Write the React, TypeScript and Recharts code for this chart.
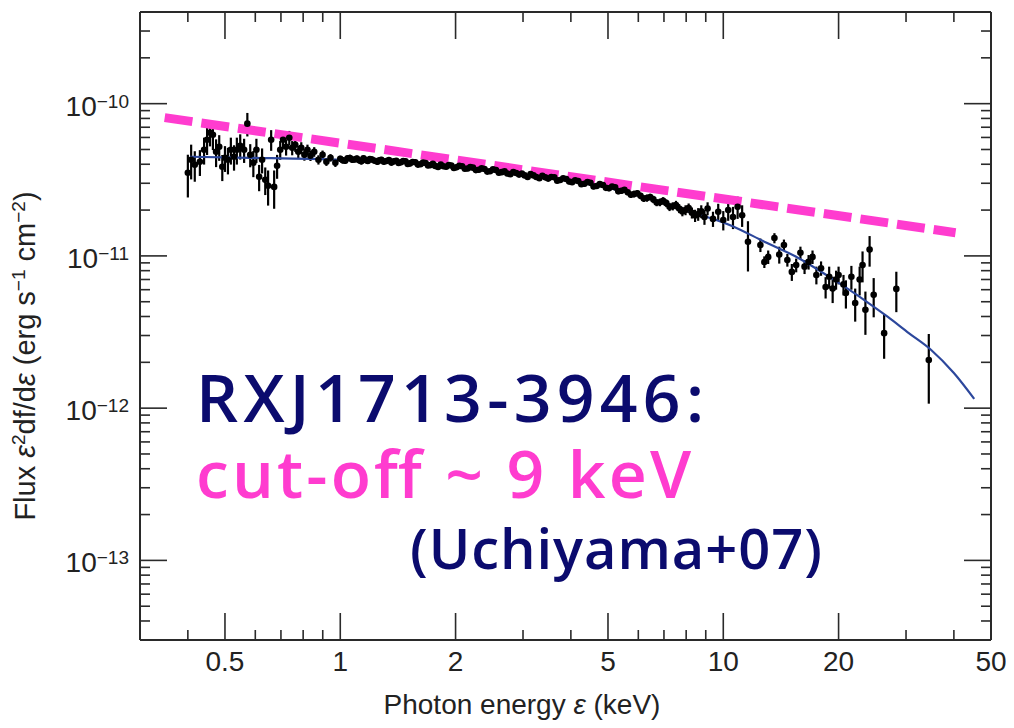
import React from "react";
import { ComposedChart, XAxis, YAxis, Scatter, Line, ErrorBar } from "recharts";

// flux values are in units of 1e-11 erg s^-1 cm^-2

// 0.4 - 1 keV: noisy low-energy points
const softEnergy = [
  0.4, 0.408, 0.417, 0.43, 0.441, 0.449, 0.457, 0.465, 0.474, 0.483, 0.492, 0.5, 0.509, 0.518,
  0.528, 0.537, 0.548, 0.561, 0.572, 0.582, 0.593, 0.604, 0.614, 0.625, 0.637, 0.648, 0.66,
  0.672, 0.684, 0.697, 0.709, 0.722, 0.736, 0.749, 0.763, 0.777, 0.791, 0.806, 0.821, 0.836,
  0.855, 0.877, 0.899, 0.92, 0.943, 0.971,
];
const softFlux = [
  3.52, 4.28, 3.97, 4.15, 4.98, 5.8, 6.44, 6.25, 4.83, 5.21, 3.85, 4.41, 4.28, 4.98, 4.48, 4.98,
  5.29, 4.98, 7.39, 4.62, 4.09, 4.98, 3.31, 4.28, 3.16, 2.89, 5.8, 2.84, 3.91, 4.98, 5.8, 5.21,
  5.97, 5.13, 5.37, 4.83, 5.13, 4.62, 4.98, 4.55, 4.83, 4.28, 4.62, 4.15, 4.41, 4.09,
];
const softErr = [
  1.1, 1.1, 0.9, 0.8, 1.0, 1.2, 1.2, 1.3, 1.0, 1.0, 0.75, 0.85, 0.85, 1.0, 0.85, 1.0, 1.0, 0.9,
  1.3, 0.8, 0.8, 0.9, 0.65, 0.8, 0.65, 0.75, 0.9, 0.8, 0.7, 0.7, 0.75, 0.65, 0.65, 0.55, 0.55,
  0.45, 0.45, 0.4, 0.4, 0.35, 0.35, 0.3, 0.3, 0.25, 0.25, 0.25,
];

// 1 - 9 keV: dense band
const midEnergy = [
  1.0, 1.015, 1.03, 1.045, 1.06, 1.075, 1.09, 1.105, 1.12, 1.135,
  1.15, 1.165, 1.18, 1.195, 1.21, 1.23, 1.25, 1.265, 1.28, 1.3,
  1.32, 1.34, 1.36, 1.38, 1.4, 1.42, 1.44, 1.46, 1.48, 1.5,
  1.52, 1.545, 1.57, 1.595, 1.62, 1.645, 1.67, 1.695, 1.72, 1.745,
  1.77, 1.8, 1.83, 1.86, 1.89, 1.92, 1.95, 1.98, 2.01, 2.045,
  2.08, 2.115, 2.15, 2.185, 2.22, 2.26, 2.3, 2.34, 2.38, 2.42,
  2.46, 2.505, 2.55, 2.595, 2.64, 2.685, 2.73, 2.78, 2.83, 2.88,
  2.93, 2.98, 3.03, 3.085, 3.14, 3.195, 3.25, 3.31, 3.37, 3.43,
  3.49, 3.555, 3.62, 3.685, 3.75, 3.82, 3.89, 3.96, 4.03, 4.105,
  4.18, 4.26, 4.34, 4.42, 4.5, 4.585, 4.67, 4.76, 4.85, 4.94,
  5.03, 5.125, 5.22, 5.32, 5.42, 5.52, 5.63, 5.74, 5.85, 5.965,
  6.08, 6.2, 6.32, 6.445, 6.57, 6.7, 6.83, 6.965, 7.1, 7.24,
  7.38, 7.525, 7.67, 7.82, 7.97, 8.12, 8.28, 8.44, 8.6, 8.76, 8.93,
];
const midFlux = [
  4.35, 4.25, 4.22, 4.38, 4.4, 4.28, 4.3, 4.36, 4.25, 4.18,
  4.38, 4.27, 4.2, 4.33, 4.3, 4.22, 4.15, 4.24, 4.28, 4.16,
  4.2, 4.26, 4.1, 4.18, 4.22, 4.08, 4.12, 4.2, 4.18, 4.02,
  4.05, 4.14, 4.12, 3.98, 4.0, 4.1, 4.08, 3.93, 3.95, 4.02,
  3.9, 3.84, 3.98, 3.88, 3.85, 3.95, 3.92, 3.78, 3.82, 3.9,
  3.88, 3.74, 3.75, 3.84, 3.8, 3.66, 3.68, 3.76, 3.72, 3.58,
  3.6, 3.7, 3.66, 3.52, 3.55, 3.6, 3.48, 3.44, 3.55, 3.5,
  3.42, 3.47, 3.38, 3.3, 3.45, 3.38, 3.3, 3.24, 3.36, 3.28,
  3.22, 3.3, 3.28, 3.12, 3.15, 3.24, 3.2, 3.08, 3.05, 3.14,
  3.1, 2.96, 2.98, 3.06, 3.02, 2.86, 2.88, 2.96, 2.92, 2.8,
  2.78, 2.86, 2.82, 2.66, 2.68, 2.72, 2.62, 2.52, 2.55, 2.58,
  2.48, 2.38, 2.4, 2.44, 2.35, 2.24, 2.25, 2.3, 2.22, 2.1,
  2.12, 2.16, 2.05, 1.96, 2.0, 2.06, 1.92, 1.84, 1.88, 1.96, 1.8,
];
const midErr = [
  0.2, 0.21, 0.2, 0.2, 0.22, 0.2, 0.19, 0.2, 0.2, 0.19,
  0.19, 0.2, 0.18, 0.19, 0.19, 0.18, 0.19, 0.18, 0.19, 0.18,
  0.18, 0.17, 0.18, 0.18, 0.17, 0.18, 0.17, 0.18, 0.17, 0.17,
  0.17, 0.16, 0.17, 0.17, 0.16, 0.17, 0.16, 0.16, 0.17, 0.16,
  0.16, 0.15, 0.16, 0.16, 0.15, 0.16, 0.15, 0.15, 0.16, 0.15,
  0.15, 0.14, 0.15, 0.15, 0.14, 0.15, 0.14, 0.14, 0.15, 0.14,
  0.14, 0.14, 0.13, 0.14, 0.14, 0.13, 0.14, 0.13, 0.14, 0.13,
  0.13, 0.14, 0.13, 0.13, 0.14, 0.13, 0.13, 0.12, 0.13, 0.13,
  0.13, 0.12, 0.13, 0.12, 0.13, 0.12, 0.12, 0.13, 0.12, 0.12,
  0.12, 0.12, 0.13, 0.12, 0.12, 0.12, 0.13, 0.12, 0.12, 0.12,
  0.12, 0.12, 0.12, 0.12, 0.13, 0.12, 0.12, 0.12, 0.13, 0.12,
  0.12, 0.12, 0.13, 0.12, 0.13, 0.12, 0.13, 0.13, 0.13, 0.13,
  0.13, 0.14, 0.14, 0.14, 0.15, 0.15, 0.16, 0.17, 0.18, 0.19, 0.2,
];

// 9 - 35 keV: sparse points with large error bars
const hardEnergy = [
  9.1, 9.4, 9.7, 10.0, 10.3, 10.6, 10.9, 11.2,
  11.6, 12.5, 12.8, 13.1, 13.6, 14.0, 14.4, 14.7, 15.1, 15.5, 15.9, 16.3, 16.7, 17.1, 17.5, 18.0,
  18.5, 18.9, 19.3, 19.7, 20.0, 20.6, 20.9, 21.6, 22.1, 22.7, 23.1, 23.5, 24.1, 24.7, 26.3, 28.3,
  34.4,
];
const hardFlux = [
  2.05, 1.75, 1.95, 1.72, 2.0, 1.8, 2.1, 1.85,
  1.24, 1.18, 0.913, 0.985, 1.31, 1.02, 1.18, 0.94, 0.785, 0.87, 1.05, 0.85, 0.913, 0.985, 0.75,
  0.83, 0.625, 0.73, 0.61, 0.7, 0.75, 0.65, 0.571, 0.73, 0.49, 0.7, 0.87, 0.443, 1.1, 0.555,
  0.311, 0.607, 0.207,
];
const hardErr = [
  0.2, 0.2, 0.25, 0.25, 0.3, 0.3, 0.35, 0.3,
  0.45, 0.12, 0.08, 0.1, 0.1, 0.13, 0.1, 0.09, 0.1, 0.09, 0.1, 0.09, 0.1, 0.1, 0.1, 0.09, 0.1,
  0.12, 0.12, 0.1, 0.1, 0.1, 0.12, 0.13, 0.12, 0.15, 0.2, 0.14, 0.25, 0.16, 0.1, 0.18, 0.1,
];

const modelEnergy = [0.405, 0.582, 1.0, 1.43, 1.86, 2.4, 3.08, 3.99, 5.08, 6.46, 8.22, 10.5, 12.8, 15.7, 19.1, 23.3, 26.9, 30.5, 34.9, 40.0, 45.2];
const modelFlux = [4.48, 4.41, 4.28, 4.12, 3.92, 3.65, 3.38, 3.1, 2.78, 2.37, 1.95, 1.58, 1.24, 0.97, 0.717, 0.515, 0.397, 0.311, 0.241, 0.17, 0.115];

const powerLawEnergy = [0.348, 40.4];
const powerLawFlux = [8.1, 1.42];

const xTicks = [0.4, 0.5, 0.6, 0.7, 0.8, 0.9, 1, 2, 3, 4, 5, 6, 7, 8, 9, 10, 20, 30, 40, 50];
const xMajor = [0.5, 1, 2, 5, 10, 20, 50];
const yTicks = [
  0.004, 0.005, 0.006, 0.007, 0.008, 0.009, 0.01, 0.02, 0.03, 0.04, 0.05, 0.06, 0.07, 0.08, 0.09,
  0.1, 0.2, 0.3, 0.4, 0.5, 0.6, 0.7, 0.8, 0.9, 1, 2, 3, 4, 5, 6, 7, 8, 9, 10, 20, 30, 40,
];

const toRows = (e: number[], f: number[], s: number[]) => e.map((x, i) => ({ x, y: f[i], err: s[i] }));
const obsData = [
  ...toRows(softEnergy, softFlux, softErr),
  ...toRows(midEnergy, midFlux, midErr),
  ...toRows(hardEnergy, hardFlux, hardErr),
];
const modelData = modelEnergy.map((x, i) => ({ x, y: modelFlux[i] }));
const powerLawData = powerLawEnergy.map((x, i) => ({ x, y: powerLawFlux[i] }));

const axisColor = "#2a2a2a";
const labelFont = "'Liberation Sans', Arial, Helvetica, sans-serif";
const noteFont = "'Open Sans', 'Noto Sans', sans-serif";
const navy = "#0b0b6e";
const pink = "#ff3ccf";

// plot frame in svg pixels (from the axis sizes below)
const FRAME = { left: 132, right: 983, top: 4, bottom: 632 };

const isDecade = (v: number) => Math.abs(Math.log10(v) - Math.round(Math.log10(v))) < 1e-6;

// ticks point inward on all four sides, long at labelled values
const BottomTick = ({ x, payload }: any) => {
  const major = xMajor.includes(payload.value);
  const y = FRAME.bottom;
  return (
    <g>
      <line x1={x} y1={y} x2={x} y2={y - (major ? 27 : 10)} stroke={axisColor} strokeWidth={1.6} />
      {major && (
        <text x={x} y={y + 31} textAnchor="middle" fontSize={28} fontFamily={labelFont} fill="#222">
          {String(payload.value)}
        </text>
      )}
    </g>
  );
};

const TopTick = ({ x, payload }: any) => {
  const major = xMajor.includes(payload.value);
  const y = FRAME.top;
  return <line x1={x} y1={y} x2={x} y2={y + (major ? 27 : 10)} stroke={axisColor} strokeWidth={1.6} />;
};

const LeftTick = ({ y, payload }: any) => {
  const major = isDecade(payload.value);
  const exp = Math.round(Math.log10(payload.value)) - 11;
  const x = FRAME.left;
  return (
    <g>
      <line x1={x} y1={y} x2={x + (major ? 27 : 10)} y2={y} stroke={axisColor} strokeWidth={1.6} />
      {major && (
        <text x={x - 11} y={y + 12} textAnchor="end" fontSize={28} fontFamily={labelFont} fill="#222">
          10
          <tspan dy={-8} fontSize={19}>
            {"\u2212" + Math.abs(exp)}
          </tspan>
        </text>
      )}
    </g>
  );
};

const RightTick = ({ y, payload }: any) => {
  const major = isDecade(payload.value);
  const x = FRAME.right;
  return <line x1={x} y1={y} x2={x - (major ? 27 : 10)} y2={y} stroke={axisColor} strokeWidth={1.6} />;
};

const Dot = ({ cx, cy }: any) => <circle cx={cx} cy={cy} r={3.3} fill="#000" />;

export default function App() {
  return (
    <ComposedChart width={1000} height={712} margin={{ top: 0, right: 0, bottom: 0, left: 0 }}>
      <XAxis
        xAxisId="bottom"
        dataKey="x"
        type="number"
        scale="log"
        domain={[0.3, 50]}
        allowDataOverflow
        ticks={xTicks}
        interval={0}
        height={80}
        tickLine={false}
        tick={<BottomTick />}
        axisLine={{ stroke: axisColor, strokeWidth: 2 }}
      />
      <XAxis
        xAxisId="top"
        orientation="top"
        dataKey="x"
        type="number"
        scale="log"
        domain={[0.3, 50]}
        allowDataOverflow
        ticks={xTicks}
        interval={0}
        height={4}
        tickLine={false}
        tick={<TopTick />}
        axisLine={{ stroke: axisColor, strokeWidth: 2 }}
      />
      <YAxis
        yAxisId="left"
        type="number"
        scale="log"
        domain={[0.003, 40]}
        allowDataOverflow
        ticks={yTicks}
        interval={0}
        width={132}
        tickLine={false}
        tick={<LeftTick />}
        axisLine={{ stroke: axisColor, strokeWidth: 2 }}
      />
      <YAxis
        yAxisId="right"
        orientation="right"
        type="number"
        scale="log"
        domain={[0.003, 40]}
        allowDataOverflow
        ticks={yTicks}
        interval={0}
        width={17}
        tickLine={false}
        tick={<RightTick />}
        axisLine={{ stroke: axisColor, strokeWidth: 2 }}
      />

      <Scatter
        xAxisId="bottom"
        yAxisId="left"
        data={obsData}
        dataKey="y"
        shape={<Dot />}
        isAnimationActive={false}
      >
        <ErrorBar dataKey="err" direction="y" width={0} stroke="#000" strokeWidth={2.2} isAnimationActive={false} />
      </Scatter>
      <Line
        xAxisId="bottom"
        yAxisId="left"
        data={modelData}
        dataKey="y"
        type="monotone"
        stroke="#2c479c"
        strokeWidth={2.2}
        dot={false}
        activeDot={false}
        isAnimationActive={false}
      />
      <Line
        xAxisId="top"
        yAxisId="right"
        data={powerLawData}
        dataKey="y"
        type="linear"
        stroke={pink}
        strokeWidth={9}
        strokeDasharray="28 9"
        dot={false}
        activeDot={false}
        isAnimationActive={false}
      />

      <text x={514} y={706} textAnchor="middle" fontSize={28} fontFamily={labelFont} fill="#222">
        Photon energy <tspan fontStyle="italic">ε</tspan> (keV)
      </text>
      <text transform="rotate(-90)" x={-348} y={27} textAnchor="middle" fontSize={29} fontFamily={labelFont} fill="#222">
        Flux <tspan fontStyle="italic">ε</tspan>
        <tspan dy={-10} fontSize={19}>2</tspan>
        <tspan dy={10}>df/d</tspan>
        <tspan fontStyle="italic">ε</tspan> (erg s
        <tspan dy={-10} fontSize={19}>{"\u22121"}</tspan>
        <tspan dy={10}> cm</tspan>
        <tspan dy={-10} fontSize={19}>{"\u22122"}</tspan>
        <tspan dy={10}>)</tspan>
      </text>

      <text x={188} y={414} fontSize={66} fontWeight={600} fontFamily={noteFont} fill={navy} textLength={508} lengthAdjust="spacing">
        RXJ1713-3946:
      </text>
      <text x={188} y={490} fontSize={66} fontWeight={600} fontFamily={noteFont} fill={pink} textLength={495} lengthAdjust="spacing">
        cut-off ~ 9 keV
      </text>
      <text x={402} y={561} fontSize={56} fontWeight={600} fontFamily={noteFont} fill={navy} textLength={412} lengthAdjust="spacing">
        (Uchiyama+07)
      </text>
    </ComposedChart>
  );
}
